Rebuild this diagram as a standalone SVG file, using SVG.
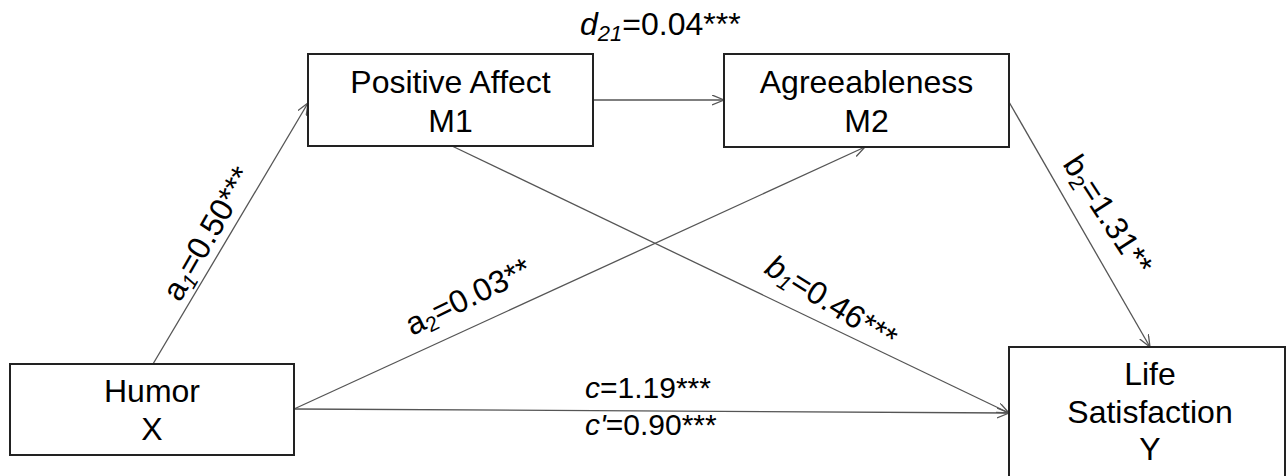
<svg xmlns="http://www.w3.org/2000/svg" width="1287" height="476" viewBox="0 0 1287 476">
<defs>
<style>
.box{fill:#fff;stroke:#222;stroke-width:2}
.node{font-family:"Liberation Sans",Arial,sans-serif;font-size:32px;fill:#000;text-anchor:middle}
.lbl{font-family:"Liberation Sans",Arial,sans-serif;font-size:30px;fill:#000}
.rl{font-size:32px}
.edge{fill:none;stroke:#555;stroke-width:1.3;marker-end:url(#arr)}
.it{font-style:italic}
</style>
<marker id="arr" markerUnits="userSpaceOnUse" markerWidth="14" markerHeight="12" refX="12" refY="5" orient="auto" viewBox="0 0 14 12">
<path d="M0,0 L12,5 L0,10" fill="none" stroke="#555" stroke-width="1.3"/>
</marker>
</defs>
<rect width="1287" height="476" fill="#fff"/>
<g id="connectors">
<line class="edge" x1="153" y1="364" x2="308" y2="103"/>
<line class="edge" x1="593" y1="100" x2="724" y2="100"/>
<line class="edge" x1="452" y1="146" x2="1009" y2="413"/>
<line class="edge" x1="294" y1="409" x2="865" y2="147"/>
<line class="edge" x1="294" y1="409" x2="1009" y2="413"/>
<line class="edge" x1="1009" y1="102" x2="1150" y2="347"/>
</g>
<g id="node-humor">
<rect class="box" x="10" y="364" width="284" height="91"/>
<text class="node" x="152" y="402">Humor</text>
<text class="node" x="152" y="440">X</text>
</g>
<g id="node-positive-affect">
<rect class="box" x="308" y="54" width="285" height="92"/>
<text class="node" x="450.5" y="93">Positive Affect</text>
<text class="node" x="450.5" y="132">M1</text>
</g>
<g id="node-agreeableness">
<rect class="box" x="724" y="54" width="285" height="93"/>
<text class="node" x="866.5" y="93">Agreeableness</text>
<text class="node" x="866.5" y="132">M2</text>
</g>
<g id="node-life-satisfaction">
<rect class="box" x="1009" y="347" width="276" height="160"/>
<text class="node" x="1150" y="385">Life</text>
<text class="node" x="1150" y="423">Satisfaction</text>
<text class="node" x="1150" y="460">Y</text>
</g>
<g id="labels">
<text class="lbl rl" x="580" y="35"><tspan class="it">d</tspan><tspan class="it" font-size="22" dy="6">21</tspan><tspan dy="-6">=0.04***</tspan></text>
<text class="lbl rl" transform="translate(180,303) rotate(-60)">a<tspan class="it" font-size="21" dy="5">1</tspan><tspan dy="-5">=0.50***</tspan></text>
<text class="lbl rl" transform="translate(412,336) rotate(-26)">a<tspan font-size="21" dy="5">2</tspan><tspan dy="-5">=0.03**</tspan></text>
<text class="lbl rl" transform="translate(763,272) rotate(32)"><tspan class="it">b</tspan><tspan class="it" font-size="21" dy="5">1</tspan><tspan dy="-5">=0.46***</tspan></text>
<text class="lbl rl" transform="translate(1062,164) rotate(57)">b<tspan font-size="21" dy="5">2</tspan><tspan dy="-5">=1.31**</tspan></text>
<text class="lbl" x="585" y="398"><tspan class="it">c</tspan>=1.19***</text>
<text class="lbl" x="585" y="435"><tspan class="it">c'</tspan>=0.90***</text>
</g>
</svg>
